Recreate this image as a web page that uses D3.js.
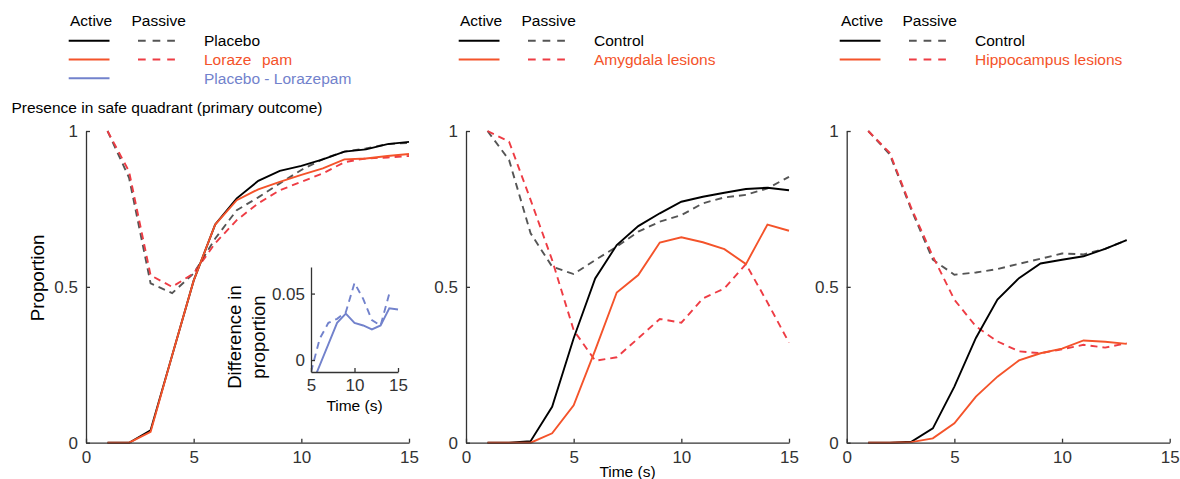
<!DOCTYPE html>
<html>
<head>
<meta charset="utf-8">
<script src="https://cdn.jsdelivr.net/npm/d3@7"></script>
<style>
  body { margin: 0; background: #fff; }
  text { font-family: "Liberation Sans", Arial, sans-serif; white-space: pre; }
</style>
</head>
<body>
<div id="chart"></div>
<script>
// ---------------- data ----------------
const time = [1, 2, 3, 4, 5, 6, 7, 8, 9, 10, 11, 12, 13, 14, 15]
const time13 = [1, 2, 3, 4, 5, 6, 7, 8, 9, 10, 11, 12, 13]

// panel 1: placebo vs lorazepam
const placeboActive   = [0, 0, 0.04, 0.28, 0.52, 0.70, 0.784, 0.84, 0.872, 0.888, 0.909, 0.934, 0.941, 0.958, 0.965]
const placeboPassive  = [1, 0.85, 0.511, 0.48, 0.543, 0.655, 0.746, 0.787, 0.832, 0.875, 0.91, 0.934, 0.944, 0.958, 0.962]
const lorazepamActive = [0, 0, 0.035, 0.28, 0.52, 0.70, 0.778, 0.813, 0.837, 0.859, 0.88, 0.909, 0.912, 0.92, 0.926]
const lorazepamPassive = [1, 0.87, 0.537, 0.50, 0.543, 0.64, 0.714, 0.768, 0.81, 0.837, 0.864, 0.90, 0.912, 0.915, 0.92]

// inset: placebo - lorazepam
const insetTimeActive  = [5, 6, 7, 8, 9, 10, 11, 12, 13, 14, 15]
const diffActive       = [-0.02, -0.004, 0.012, 0.028, 0.035, 0.028, 0.026, 0.023, 0.026, 0.039, 0.038]
const insetTimePassive = [5, 6, 7, 8, 9, 10, 11, 12, 13, 14, 14.3]
const diffPassive      = [-0.009, 0.016, 0.028, 0.031, 0.036, 0.058, 0.046, 0.03, 0.026, 0.05, 0.048]

// panel 2: control vs amygdala lesions
const ctrlActive2  = [0, 0, 0.005, 0.115, 0.335, 0.527, 0.634, 0.695, 0.736, 0.773, 0.789, 0.802, 0.814, 0.818, 0.81]
const ctrlPassive2 = [1, 0.907, 0.672, 0.565, 0.541, 0.586, 0.629, 0.677, 0.709, 0.73, 0.768, 0.787, 0.795, 0.816, 0.853]
const amygActive   = [0, 0, 0, 0.03, 0.12, 0.297, 0.482, 0.538, 0.642, 0.659, 0.643, 0.621, 0.573, 0.70, 0.68]
const amygPassive  = [1, 0.966, 0.779, 0.586, 0.361, 0.263, 0.274, 0.335, 0.397, 0.385, 0.463, 0.495, 0.573, 0.45, 0.321]

// panel 3: control vs hippocampus lesions
const ctrlActive3  = [0, 0, 0.003, 0.046, 0.18, 0.336, 0.459, 0.528, 0.575, 0.587, 0.598, 0.622, 0.65]
const ctrlPassive3 = [1, 0.925, 0.748, 0.587, 0.539, 0.546, 0.557, 0.574, 0.59, 0.607, 0.604, 0.622, 0.65]
const hippActive   = [0, 0, 0.002, 0.014, 0.062, 0.148, 0.212, 0.264, 0.287, 0.302, 0.328, 0.324, 0.317]
const hippPassive  = [1, 0.93, 0.753, 0.598, 0.459, 0.373, 0.325, 0.293, 0.287, 0.30, 0.314, 0.305, 0.319]

const xTicks = [0, 5, 10, 15]
const yTicks = [0, 0.5, 1]
const insetXTicks = [5, 10, 15]
const insetYTicks = [0, 0.05]

// the gap in "Loraze  pam" is in the original figure
const legendLabels1 = ["Placebo", "Loraze  pam", "Placebo - Lorazepam"]
const legendLabels2 = ["Control", "Amygdala lesions"]
const legendLabels3 = ["Control", "Hippocampus lesions"]

// ---------------- style ----------------
const C = {
  black: "#000000",
  gray: "#555555",
  orange: "#f4532a",
  red: "#ee3c44",
  blue: "#7282cc",
  axis: "#333333",
  tick: "#333333"
}
const DASH = "7,5"

const panels = [
  {
    x0: 86, time: time, legendX: 70, labels: legendLabels1, ylabel: true, xlabel: false,
    series: [
      { v: placeboPassive, color: C.gray, dash: true },
      { v: lorazepamPassive, color: C.red, dash: true },
      { v: placeboActive, color: C.black, dash: false },
      { v: lorazepamActive, color: C.orange, dash: false }
    ],
    legend: [
      { color: C.black, dcolor: C.gray, text: C.black },
      { color: C.orange, dcolor: C.red, text: C.orange },
      { color: C.blue, dcolor: null, text: C.blue }
    ]
  },
  {
    x0: 466, time: time, legendX: 460, labels: legendLabels2, ylabel: false, xlabel: true,
    series: [
      { v: ctrlPassive2, color: C.gray, dash: true },
      { v: amygPassive, color: C.red, dash: true },
      { v: ctrlActive2, color: C.black, dash: false },
      { v: amygActive, color: C.orange, dash: false }
    ],
    legend: [
      { color: C.black, dcolor: C.gray, text: C.black },
      { color: C.orange, dcolor: C.red, text: C.orange }
    ]
  },
  {
    x0: 846.7, time: time13, legendX: 841, labels: legendLabels3, ylabel: false, xlabel: false,
    series: [
      { v: ctrlPassive3, color: C.gray, dash: true },
      { v: hippPassive, color: C.red, dash: true },
      { v: ctrlActive3, color: C.black, dash: false },
      { v: hippActive, color: C.orange, dash: false }
    ],
    legend: [
      { color: C.black, dcolor: C.gray, text: C.black },
      { color: C.orange, dcolor: C.red, text: C.orange }
    ]
  }
]

const dims = { width: 1180, height: 479, pw: 323, yTop: 131, yBottom: 442.7 }

const svg = d3.select("#chart").append("svg")
  .attr("width", dims.width)
  .attr("height", dims.height)

const yScale = d3.scaleLinear().domain([0, 1]).range([dims.yBottom, dims.yTop])

//--------------- panels
panels.forEach(p => {
  const xScale = d3.scaleLinear().domain([0, 15]).range([p.x0, p.x0 + dims.pw])
  const g = svg.append("g")

  const line = d3.line()
    .x((d, i) => xScale(p.time[i]))
    .y(d => yScale(d))

  g.selectAll("path.series")
    .data(p.series)
    .join("path")
    .attr("class", "series")
    .attr("d", s => line(s.v))
    .attr("fill", "none")
    .attr("stroke", s => s.color)
    .attr("stroke-width", 1.9)
    .attr("stroke-dasharray", s => s.dash ? DASH : null)

  // axes, ticks pointing inward
  const xAxis = d3.axisBottom(xScale).tickValues(xTicks)
    .tickSizeInner(-4).tickSizeOuter(0).tickPadding(8)
  const yAxis = d3.axisLeft(yScale).tickValues(yTicks)
    .tickFormat(d => String(d))
    .tickSizeInner(-4).tickSizeOuter(0).tickPadding(8)

  const gx = g.append("g").attr("transform", `translate(0,${dims.yBottom})`).call(xAxis)
  const gy = g.append("g").attr("transform", `translate(${p.x0},0)`).call(yAxis)
  ;[gx, gy].forEach(a => {
    a.select(".domain").attr("stroke", C.axis).attr("stroke-width", 1.3)
    a.selectAll(".tick line").attr("stroke", C.axis).attr("stroke-width", 1.3)
    a.selectAll(".tick text").attr("fill", C.tick)
      .style("font-size", "17px").style("font-family", "Liberation Sans, Arial, sans-serif")
  })

  if (p.ylabel) {
    g.append("text")
      .attr("transform", `translate(44,278) rotate(-90)`)
      .attr("text-anchor", "middle")
      .style("font-size", "18.8px")
      .text("Proportion")
  }
  if (p.xlabel) {
    g.append("text")
      .attr("x", p.x0 + dims.pw / 2)
      .attr("y", 477)
      .attr("text-anchor", "middle")
      .style("font-size", "15.5px")
      .text("Time (s)")
  }

  // legend
  const lx = p.legendX
  g.append("text").attr("x", lx).attr("y", 21).attr("dy", "0.35em")
    .style("font-size", "15.5px").text("Active")
  g.append("text").attr("x", lx + 61.5).attr("y", 21).attr("dy", "0.35em")
    .style("font-size", "15.5px").text("Passive")

  const rows = g.selectAll("g.leg")
    .data(p.legend)
    .join("g")
    .attr("class", "leg")
    .attr("transform", (d, i) => `translate(${lx},${40.7 + i * 18.8})`)

  rows.append("line")
    .attr("x1", -1.3).attr("x2", 39.5).attr("y1", 0).attr("y2", 0)
    .attr("stroke", d => d.color).attr("stroke-width", 1.9)
  rows.filter(d => d.dcolor).append("line")
    .attr("x1", 68).attr("x2", 105.5).attr("y1", 0).attr("y2", 0)
    .attr("stroke", d => d.dcolor).attr("stroke-width", 1.9)
    .attr("stroke-dasharray", "7.7,6.9")

  const labelText = rows.append("text")
    .attr("x", 134)
    .attr("y", 0).attr("dy", "0.35em")
    .attr("fill", d => d.text)
    .style("font-size", "15.5px")

  // a double space in a label marks a wide gap, drawn as a second tspan
  labelText.each(function (d, i) {
    const parts = p.labels[i].split(/\s{2,}/)
    const t = d3.select(this)
    t.append("tspan").text(parts[0])
    if (parts.length > 1) {
      t.append("tspan").attr("x", 192).text(parts[1])
    }
  })
})

// panel 1 subtitle
svg.append("text")
  .attr("x", 11.5).attr("y", 107.7).attr("dy", "0.35em")
  .style("font-size", "15.5px")
  .text("Presence in safe quadrant (primary outcome)")

//--------------- inset
const ix = d3.scaleLinear().domain([5, 15]).range([311, 398])
const iy = d3.scaleLinear().domain([-0.009, 0.07]).range([372, 267])

svg.append("clipPath").attr("id", "insetClip")
  .append("rect").attr("x", 311).attr("y", 262).attr("width", 92).attr("height", 110)

const inset = svg.append("g")

const insetSeries = [
  { t: insetTimePassive, v: diffPassive, dash: true },
  { t: insetTimeActive, v: diffActive, dash: false }
]
inset.selectAll("path.diff")
  .data(insetSeries)
  .join("path")
  .attr("class", "diff")
  .attr("clip-path", "url(#insetClip)")
  .attr("d", s => d3.line().x((d, i) => ix(s.t[i])).y(d => iy(d))(s.v))
  .attr("fill", "none")
  .attr("stroke", C.blue)
  .attr("stroke-width", 1.9)
  .attr("stroke-dasharray", s => s.dash ? DASH : null)

const ixAxis = d3.axisBottom(ix).tickValues(insetXTicks)
  .tickSizeInner(-4).tickSizeOuter(0).tickPadding(7)
const iyAxis = d3.axisLeft(iy).tickValues(insetYTicks)
  .tickFormat(d => String(d))
  .tickSizeInner(-4).tickSizeOuter(0).tickPadding(6)

const igx = inset.append("g").attr("transform", "translate(0,372)").call(ixAxis)
const igy = inset.append("g").attr("transform", "translate(311,0)").call(iyAxis)
;[igx, igy].forEach(a => {
  a.select(".domain").attr("stroke", C.axis).attr("stroke-width", 1.3)
  a.selectAll(".tick line").attr("stroke", C.axis).attr("stroke-width", 1.3)
  a.selectAll(".tick text").attr("fill", C.tick)
    .style("font-size", "17px").style("font-family", "Liberation Sans, Arial, sans-serif")
})

inset.append("text")
  .attr("x", 354.5).attr("y", 411)
  .attr("text-anchor", "middle")
  .style("font-size", "15.5px")
  .text("Time (s)")

inset.append("text")
  .attr("transform", "translate(241,337) rotate(-90)")
  .attr("text-anchor", "middle")
  .style("font-size", "18.5px")
  .text("Difference in")
inset.append("text")
  .attr("transform", "translate(265,337) rotate(-90)")
  .attr("text-anchor", "middle")
  .style("font-size", "18.5px")
  .text("proportion")
</script>
</body>
</html>
